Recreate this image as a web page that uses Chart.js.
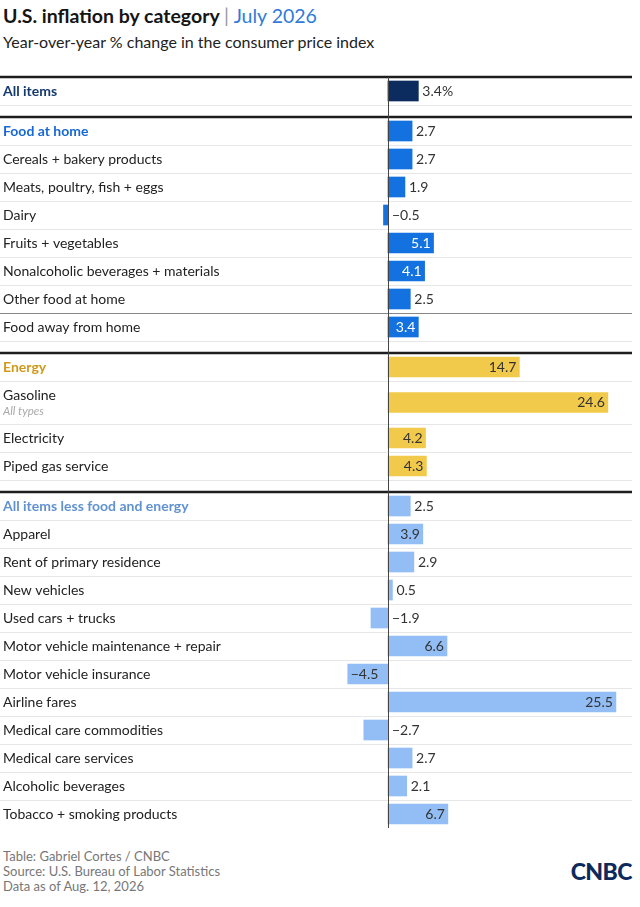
<!DOCTYPE html>
<html lang="en">
<head>
<meta charset="UTF-8" />
<title>U.S. inflation by category</title>
<script src="https://cdn.jsdelivr.net/npm/chart.js"></script>
<style>
  body { margin: 0; background: #fff; font-family: Lato, Arial, sans-serif; color: #222; width: 640px; height: 907px; position: relative; overflow: hidden; }
  h1 { position: absolute; left: 3px; top: 4px; margin: 0; font-size: 19.5px; font-weight: 700; color: #151515; }
  h1 .bar { font-weight: 400; color: #999; }
  h1 .date { font-weight: 400; color: #2f7bd9; }
  .sub { position: absolute; left: 3px; top: 32px; font-size: 16px; color: #222; }
  #wrap { position: absolute; left: 0; top: 70px; }
  .foot { position: absolute; left: 3px; top: 849px; font-size: 13px; line-height: 15px; color: #777; }
  .logo { position: absolute; right: 8px; top: 857px; font-size: 23px; font-weight: 900; color: #0e2a5c; letter-spacing: -0.5px; }
</style>
</head>
<body>
  <h1>U.S. inflation by category <span class="bar">|</span> <span class="date">July 2026</span></h1>
  <div class="sub">Year-over-year % change in the consumer price index</div>
  <div id="wrap"><canvas id="chart" width="640" height="770"></canvas></div>
  <div class="foot">Table: Gabriel Cortes / CNBC<br>Source: U.S. Bureau of Labor Statistics<br>Data as of Aug. 12, 2026</div>
  <div class="logo">CNBC</div>

<script>
const categories = [
  'All items',
  'Food at home', 'Cereals + bakery products', 'Meats, poultry, fish + eggs', 'Dairy',
  'Fruits + vegetables', 'Nonalcoholic beverages + materials', 'Other food at home', 'Food away from home',
  'Energy', 'Gasoline', 'Electricity', 'Piped gas service',
  'All items less food and energy', 'Apparel', 'Rent of primary residence', 'New vehicles',
  'Used cars + trucks', 'Motor vehicle maintenance + repair', 'Motor vehicle insurance', 'Airline fares',
  'Medical care commodities', 'Medical care services', 'Alcoholic beverages', 'Tobacco + smoking products'
];
const values = [
  3.4,
  2.7, 2.7, 1.9, -0.5, 5.1, 4.1, 2.5, 3.4,
  14.7, 24.6, 4.2, 4.3,
  2.5, 3.9, 2.9, 0.5, -1.9, 6.6, -4.5, 25.5, -2.7, 2.7, 2.1, 6.7
];
const groups = [
  'all',
  'food', 'food', 'food', 'food', 'food', 'food', 'food', 'food',
  'energy', 'energy', 'energy', 'energy',
  'core', 'core', 'core', 'core', 'core', 'core', 'core', 'core', 'core', 'core', 'core', 'core'
];
const sectionHeads = ['All items', 'Food at home', 'Energy', 'All items less food and energy'];
const subNotes = { 'Gasoline': 'All types' };
const ruleAbove = ['Food away from home'];

const barColors = { all: '#0c2c60', food: '#1471e0', energy: '#f2ca4b', core: '#93bef5' };
const headColors = { all: '#163a70', food: '#1668d6', energy: '#cf9a1c', core: '#6192d0' };
const FONT = 'Lato, Arial, sans-serif';

// row layout inside the canvas
const ROW = 28, TALL = 43, GAP = 12, TOP = 7;
const rowTop = [], rowBottom = [], centers = [];
let yy = TOP;
categories.forEach((c, i) => {
  if (i > 0 && groups[i] !== groups[i - 1]) yy += GAP;
  rowTop.push(yy);
  const h = subNotes[c] ? TALL : ROW;
  centers.push(yy + h / 2);
  yy += h;
  rowBottom.push(yy);
});

const fmt = v => (v < 0 ? '\u2212' : '') + Math.abs(v).toFixed(1);

const tablePlugin = {
  id: 'table',
  beforeDatasetsDraw(chart) {
    const ctx = chart.ctx;
    const L = 0, R = chart.chartArea.right;
    ctx.save();
    // light row rules
    categories.forEach((c, i) => {
      if (i === categories.length - 1) return;
      ctx.strokeStyle = '#e6e6e6';
      ctx.lineWidth = 1;
      ctx.beginPath();
      ctx.moveTo(L, rowBottom[i] + 0.5);
      ctx.lineTo(R, rowBottom[i] + 0.5);
      ctx.stroke();
    });
    // darker rule
    categories.forEach((c, i) => {
      if (!ruleAbove.includes(c)) return;
      ctx.strokeStyle = '#888';
      ctx.beginPath();
      ctx.moveTo(L, rowTop[i] + 0.5);
      ctx.lineTo(R, rowTop[i] + 0.5);
      ctx.stroke();
    });
    // thick section rules
    categories.forEach((c, i) => {
      if (!sectionHeads.includes(c)) return;
      ctx.strokeStyle = '#1e1e1e';
      ctx.lineWidth = 2.5;
      ctx.beginPath();
      ctx.moveTo(L, rowTop[i]);
      ctx.lineTo(R, rowTop[i]);
      ctx.stroke();
    });
    // row labels
    ctx.textBaseline = 'middle';
    ctx.textAlign = 'left';
    categories.forEach((c, i) => {
      const head = sectionHeads.includes(c);
      ctx.font = (head ? 'bold ' : '') + '14px ' + FONT;
      ctx.fillStyle = head ? headColors[groups[i]] : '#222';
      if (subNotes[c]) {
        ctx.fillText(c, 3, centers[i] - 7);
        ctx.font = 'italic 11.5px ' + FONT;
        ctx.fillStyle = '#aaa';
        ctx.fillText(subNotes[c], 3, centers[i] + 9);
      } else {
        ctx.fillText(c, 3, centers[i]);
      }
    });
    ctx.restore();
  },
  afterDatasetsDraw(chart) {
    const ctx = chart.ctx;
    const xs = chart.scales.x;
    const zero = xs.getPixelForValue(0);
    ctx.save();
    // zero line
    ctx.strokeStyle = '#444';
    ctx.lineWidth = 1;
    ctx.beginPath();
    ctx.moveTo(Math.round(zero) + 0.5, rowTop[0]);
    ctx.lineTo(Math.round(zero) + 0.5, rowBottom[rowBottom.length - 1]);
    ctx.stroke();
    // value labels
    ctx.font = '14px ' + FONT;
    ctx.textBaseline = 'middle';
    chart.getDatasetMeta(0).data.forEach((bar, i) => {
      const v = values[i];
      let txt = fmt(v);
      if (i === 0) txt += '%';
      const inside = i > 0 && (v >= 3.4 || v <= -4);
      if (inside) {
        ctx.fillStyle = groups[i] === 'food' ? '#fff' : '#333';
        if (v > 0) { ctx.textAlign = 'right'; ctx.fillText(txt, bar.x - 3, bar.y); }
        else { ctx.textAlign = 'left'; ctx.fillText(txt, bar.x + 3, bar.y); }
      } else {
        ctx.fillStyle = '#333';
        ctx.textAlign = 'left';
        ctx.fillText(txt, Math.max(bar.x, zero) + 4, bar.y);
      }
    });
    ctx.restore();
  }
};

new Chart(document.getElementById('chart'), {
  type: 'bar',
  data: {
    datasets: [{
      data: values.map((v, i) => ({ x: v, y: centers[i] })),
      backgroundColor: groups.map(g => barColors[g]),
      barThickness: 20,
      borderWidth: 0
    }]
  },
  options: {
    indexAxis: 'y',
    responsive: false,
    animation: false,
    layout: { padding: { left: 0, right: 8, top: 0, bottom: 0 } },
    plugins: { legend: { display: false }, tooltip: { enabled: false } },
    scales: {
      x: { type: 'linear', min: -43.4, max: 27.3, display: false },
      y: { type: 'linear', min: 0, max: 770, reverse: true, offset: false, display: false }
    }
  },
  plugins: [tablePlugin]
});
</script>
</body>
</html>
